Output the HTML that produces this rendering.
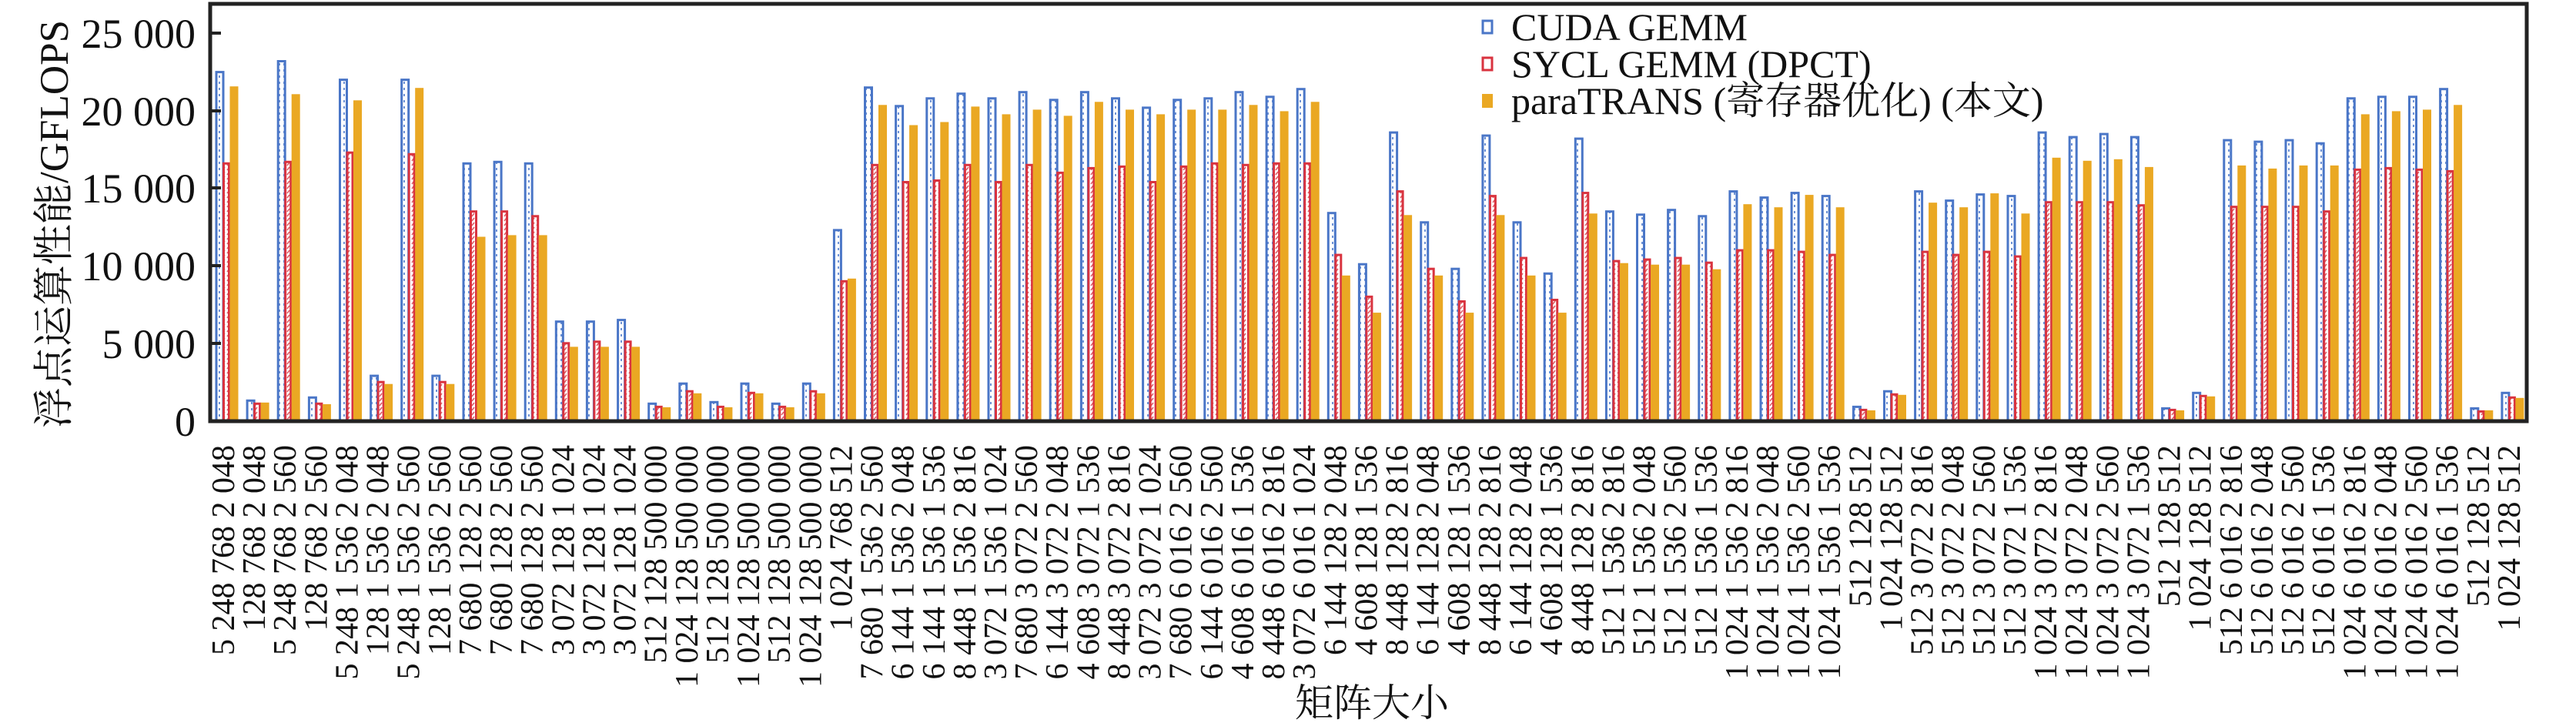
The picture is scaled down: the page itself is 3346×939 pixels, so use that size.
<!DOCTYPE html>
<html><head><meta charset="utf-8"><style>
html,body{margin:0;padding:0;background:#fff;}
svg{display:block;}
text{font-family:"Liberation Serif","Noto Serif CJK SC",serif;fill:#111;}
</style></head><body>
<svg id="c" width="3346" height="939" viewBox="0 0 3346 939" xmlns="http://www.w3.org/2000/svg">
<defs>
<pattern id="pb" width="6" height="8" patternUnits="userSpaceOnUse"><rect width="6" height="8" fill="#fff"/><rect x="2" y="2" width="2" height="3" fill="#6f93d6"/></pattern>
<pattern id="pr" width="6" height="6" patternUnits="userSpaceOnUse"><rect width="6" height="6" fill="#fff"/><path d="M1 5 L4 1" stroke="#e06068" stroke-width="1.6"/></pattern>
</defs>
<g id="bars"></g>
<g id="xl"></g>
<rect x="273" y="5" width="3009" height="542" fill="none" stroke="#222" stroke-width="5"/>
<g stroke="#222" stroke-width="4">
<line x1="273" y1="446" x2="287" y2="446"/><line x1="273" y1="345" x2="287" y2="345"/>
<line x1="273" y1="244" x2="287" y2="244"/><line x1="273" y1="144" x2="287" y2="144"/>
<line x1="273" y1="43" x2="287" y2="43"/>
</g>
<g font-size="54" text-anchor="end">
<text x="254" y="566">0</text>
<text x="254" y="465">5 000</text>
<text x="254" y="364">10 000</text>
<text x="254" y="263">15 000</text>
<text x="254" y="163">20 000</text>
<text x="254" y="62">25 000</text>
</g>
<text transform="translate(88,291) rotate(-90)" font-size="53" text-anchor="middle">浮点运算性能/GFLOPS</text>
<text x="1782" y="930" font-size="50" text-anchor="middle">矩阵大小</text>
<g>
<rect x="1926" y="27" width="12" height="16" fill="#fff" stroke="#4a76c7" stroke-width="3"/>
<rect x="1926" y="75" width="12" height="16" fill="#fff" stroke="#d9333f" stroke-width="3"/>
<rect x="1925" y="122" width="14" height="18" fill="#eaa823"/>
<text x="1963" y="52" font-size="50">CUDA GEMM</text>
<text x="1963" y="100" font-size="50">SYCL GEMM (DPCT)</text>
<text x="1963" y="148" font-size="50">paraTRANS (寄存器优化) (本文)</text>
</g>
</svg>
<script>
var L=["5 248 768 2 048","128 768 2 048","5 248 768 2 560","128 768 2 560","5 248 1 536 2 048","128 1 536 2 048","5 248 1 536 2 560","128 1 536 2 560","7 680 128 2 560","7 680 128 2 560","7 680 128 2 560","3 072 128 1 024","3 072 128 1 024","3 072 128 1 024","512 128 500 000","1 024 128 500 000","512 128 500 000","1 024 128 500 000","512 128 500 000","1 024 128 500 000","1 024 768 512","7 680 1 536 2 560","6 144 1 536 2 048","6 144 1 536 1 536","8 448 1 536 2 816","3 072 1 536 1 024","7 680 3 072 2 560","6 144 3 072 2 048","4 608 3 072 1 536","8 448 3 072 2 816","3 072 3 072 1 024","7 680 6 016 2 560","6 144 6 016 2 560","4 608 6 016 1 536","8 448 6 016 2 816","3 072 6 016 1 024","6 144 128 2 048","4 608 128 1 536","8 448 128 2 816","6 144 128 2 048","4 608 128 1 536","8 448 128 2 816","6 144 128 2 048","4 608 128 1 536","8 448 128 2 816","512 1 536 2 816","512 1 536 2 048","512 1 536 2 560","512 1 536 1 536","1 024 1 536 2 816","1 024 1 536 2 048","1 024 1 536 2 560","1 024 1 536 1 536","512 128 512","1 024 128 512","512 3 072 2 816","512 3 072 2 048","512 3 072 2 560","512 3 072 1 536","1 024 3 072 2 816","1 024 3 072 2 048","1 024 3 072 2 560","1 024 3 072 1 536","512 128 512","1 024 128 512","512 6 016 2 816","512 6 016 2 048","512 6 016 2 560","512 6 016 1 536","1 024 6 016 2 816","1 024 6 016 2 048","1 024 6 016 2 560","1 024 6 016 1 536","512 128 512","1 024 128 512"];
var D=[[22600,16700,21600],[1400,1200,1200],[23300,16800,21100],[1600,1200,1100],[22100,17400,20700],[3000,2600,2400],[22100,17300,21500],[3000,2600,2400],[16700,13600,11900],[16800,13600,12000],[16700,13300,12000],[6500,5100,4800],[6500,5200,4800],[6600,5200,4800],[1200,1000,900],[2500,2000,1800],[1300,1000,900],[2500,1900,1800],[1200,1000,900],[2500,2000,1800],[12400,9100,9200],[21600,16600,20400],[20400,15500,19100],[20900,15600,19300],[21200,16600,20300],[20900,15500,19800],[21300,16600,20100],[20800,16100,19700],[21300,16400,20600],[20900,16500,20100],[20300,15500,19800],[20800,16500,20100],[20900,16700,20100],[21300,16600,20400],[21000,16700,20000],[21500,16700,20600],[13500,10800,9400],[10200,8100,7000],[18700,14900,13300],[12900,9900,9400],[9900,7800,7000],[18500,14600,13300],[12900,10600,9400],[9600,7900,7000],[18300,14800,13400],[13600,10400,10200],[13400,10500,10100],[13700,10600,10100],[13300,10300,9800],[14900,11100,14000],[14500,11100,13800],[14800,11000,14600],[14600,10800,13800],[1000,800,700],[2000,1800,1700],[14900,11000,14100],[14300,10800,13800],[14700,11000,14700],[14600,10700,13400],[18700,14200,17000],[18400,14200,16800],[18600,14200,16900],[18400,14000,16400],[900,800,700],[1900,1700,1600],[18200,13900,16500],[18100,13900,16300],[18200,13900,16500],[18000,13600,16500],[20900,16300,19800],[21000,16400,20000],[21000,16300,20100],[21500,16200,20400],[900,700,700],[1900,1600,1500]];
var Z=547,K=0.02013,W=3009/75,b='',x='';
for(var i=0;i<75;i++){var cs=273+W*i,d=D[i];
var hb=d[0]*K,hr=d[1]*K,ho=d[2]*K;
b+='<rect x="'+(cs+8).toFixed(1)+'" y="'+(Z-hb+1.5).toFixed(1)+'" width="9" height="'+(hb-1.5).toFixed(1)+'" fill="url(#pb)" stroke="#4a76c7" stroke-width="3"/>';
b+='<rect x="'+(cs+17.5).toFixed(1)+'" y="'+(Z-hr+1.5).toFixed(1)+'" width="7" height="'+(hr-1.5).toFixed(1)+'" fill="url(#pr)" stroke="#d9333f" stroke-width="3"/>';
b+='<rect x="'+(cs+25.5).toFixed(1)+'" y="'+(Z-ho).toFixed(1)+'" width="11" height="'+ho.toFixed(1)+'" fill="#eaa823"/>';
x+='<text transform="translate('+(cs+31).toFixed(1)+',578) rotate(-90)" font-size="42" text-anchor="end">'+L[i]+'</text>';}
document.getElementById('bars').innerHTML=b;document.getElementById('xl').innerHTML=x;
</script>
</body></html>
